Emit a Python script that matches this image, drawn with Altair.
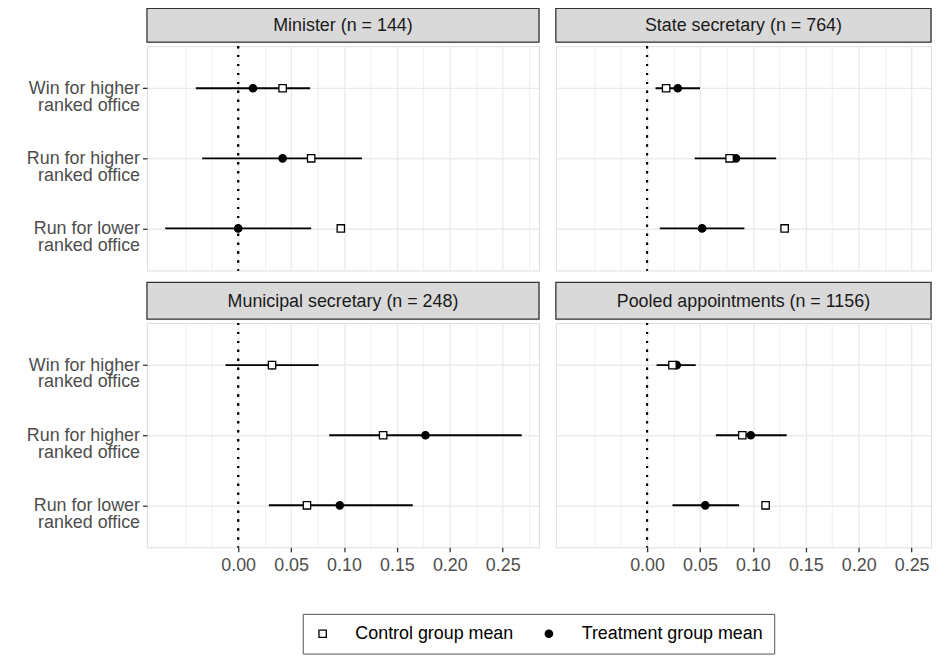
import altair as alt
import pandas as pd

FONT = "Liberation Sans"

panels = ["Minister (n = 144)", "State secretary (n = 764)",
          "Municipal secretary (n = 248)", "Pooled appointments (n = 1156)"]
outcomes = ["Win for higher\nranked office", "Run for higher\nranked office",
            "Run for lower\nranked office"]
groups = ["Control group mean", "Treatment group mean"]

treat_minister = [0.014, 0.042, 0.000]
ctrl_minister = [0.042, 0.069, 0.097]
lo_minister = [-0.040, -0.034, -0.069]
hi_minister = [0.068, 0.117, 0.069]

treat_state = [0.029, 0.084, 0.052]
ctrl_state = [0.018, 0.078, 0.130]
lo_state = [0.008, 0.045, 0.012]
hi_state = [0.050, 0.122, 0.092]

treat_muni = [0.032, 0.177, 0.096]
ctrl_muni = [0.032, 0.137, 0.065]
lo_muni = [-0.012, 0.086, 0.029]
hi_muni = [0.076, 0.268, 0.165]

treat_pooled = [0.028, 0.098, 0.055]
ctrl_pooled = [0.024, 0.090, 0.112]
lo_pooled = [0.009, 0.065, 0.024]
hi_pooled = [0.046, 0.132, 0.087]

treat_all = [treat_minister, treat_state, treat_muni, treat_pooled]
ctrl_all = [ctrl_minister, ctrl_state, ctrl_muni, ctrl_pooled]
lo_all = [lo_minister, lo_state, lo_muni, lo_pooled]
hi_all = [hi_minister, hi_state, hi_muni, hi_pooled]

x_ticks = [-0.05, -0.025, 0.0, 0.025, 0.05, 0.075, 0.1, 0.125, 0.15, 0.175,
           0.2, 0.225, 0.25, 0.275]

# Build tables
pt_rows, ci_rows = [], []
for p, tr, ct, lo, hi in zip(panels, treat_all, ctrl_all, lo_all, hi_all):
    for o, v in zip(outcomes, tr):
        pt_rows.append({"panel": p, "outcome": o, "group": groups[1], "value": v})
    for o, v in zip(outcomes, ct):
        pt_rows.append({"panel": p, "outcome": o, "group": groups[0], "value": v})
    for o, a, b in zip(outcomes, lo, hi):
        ci_rows.append({"panel": p, "outcome": o, "lo": a, "hi": b})
pts_df = pd.DataFrame(pt_rows)
ci_df = pd.DataFrame(ci_rows)

W_LEFT, W_RIGHT, H = 395, 378, 226
PX_PER_UNIT = 1066.2
X_MIN = -0.0862
MAJOR = "datum.value > -0.001 && datum.value < 0.26 && abs(datum.value*20 - round(datum.value*20)) < 0.001"

yscale = alt.Scale(type="point", domain=outcomes, padding=0.6)

legend = alt.Legend(
    title=None, orient="none", legendX=157, legendY=610, direction="horizontal",
    padding=11, strokeColor="#555555", fillColor="white",
    labelFontSize=18, labelColor="black", labelFont=FONT, labelLimit=400,
    symbolSize=55, symbolStrokeWidth=1.3,
    labelOffset=24, columnPadding=26,
)


def x_axis(bottom, vals):
    common = dict(values=vals, domain=False, grid=True, gridColor="#EBEBEB",
                  gridWidth={"condition": {"test": MAJOR, "value": 1.4}, "value": 0.8},
                  title=None)
    if bottom:
        return alt.Axis(labelExpr="(" + MAJOR + ") ? format(datum.value, '.2f') : ''",
                        labelFontSize=18, labelColor="#4D4D4D", labelFont=FONT,
                        labelOverlap=False, labelFlush=False, labelPadding=4.5,
                        tickSize=4.5, tickColor="#333333", tickWidth=1.3,
                        tickOpacity={"condition": {"test": MAJOR, "value": 1}, "value": 0},
                        **common)
    return alt.Axis(labels=False, ticks=False, minExtent=0, maxExtent=0, **common)


def y_axis(left):
    common = dict(domain=False, grid=True, gridColor="#EBEBEB", gridWidth=1.4, title=None)
    if left:
        return alt.Axis(labelExpr="split(datum.label, '\\n')", labelFontSize=18,
                        labelColor="#4D4D4D", labelFont=FONT, labelLineHeight=17,
                        labelPadding=3, labelLimit=300, tickSize=4.5,
                        tickColor="#333333", tickWidth=1.3, minExtent=139, **common)
    return alt.Axis(labels=False, ticks=False, minExtent=0, maxExtent=0, **common)


def strip(p, w, h):
    d = pd.DataFrame({"title": [p]})
    rect = alt.Chart(d).mark_rect(fill="#D9D9D9", stroke="#333333", strokeWidth=1.3).encode(
        x=alt.value(0), x2=alt.value(w), y=alt.value(0), y2=alt.value(h))
    txt = alt.Chart(d).mark_text(fontSize=18, color="#1A1A1A", font=FONT).encode(
        text="title:N", x=alt.value(w / 2), y=alt.value(h / 2 + 1))
    return alt.layer(rect, txt).properties(width=w, height=h)


def panel(i, left, bottom, strip_h):
    w = W_LEFT if left else W_RIGHT
    x_max = X_MIN + w / PX_PER_UNIT
    vals = [v for v in x_ticks if v <= x_max]
    xscale = alt.Scale(domain=[X_MIN, x_max], nice=False, zero=False)
    p = panels[i]
    pts = pts_df[pts_df.panel == p]
    ci = ci_df[ci_df.panel == p]
    xa = x_axis(bottom, vals)
    ya = y_axis(left)
    yenc = alt.Y("outcome:N", scale=yscale, axis=ya, sort=outcomes, title=None)
    zero = alt.Chart(ci).mark_rule(color="black", strokeDash=[2, 7], strokeWidth=2).encode(
        x=alt.X(datum=0, type="quantitative", scale=xscale, axis=xa, title=None))
    bars = alt.Chart(ci).mark_rule(color="black", strokeWidth=1.9).encode(
        x=alt.X("lo:Q", scale=xscale, axis=xa, title=None), x2="hi:Q", y=yenc)
    dots = alt.Chart(pts).mark_point(filled=True, size=55, strokeWidth=1.3,
                                     opacity=1).encode(
        x=alt.X("value:Q", scale=xscale, axis=xa, title=None),
        y=yenc,
        shape=alt.Shape("group:N", scale=alt.Scale(domain=groups, range=["square", "circle"]),
                        legend=legend),
        fill=alt.Fill("group:N", scale=alt.Scale(domain=groups, range=["white", "black"]),
                      legend=legend),
        stroke=alt.Stroke("group:N", scale=alt.Scale(domain=groups, range=["black", "black"]),
                          legend=legend),
    )
    plot = alt.layer(zero, bars, dots).properties(width=w, height=H)
    return alt.vconcat(strip(p, w, strip_h), plot, spacing=0)


row1 = alt.hconcat(panel(0, True, False, 34), panel(1, False, False, 34), spacing=13)
row2 = alt.hconcat(panel(2, True, True, 37), panel(3, False, True, 37), spacing=13)

chart = alt.vconcat(row1, row2, spacing=8).properties(
    padding={"left": 0, "top": -4, "right": 0, "bottom": 0}
).configure_view(stroke="#333333", strokeWidth=1.3).configure(font=FONT)

chart.save("out.html", embed_options={"renderer": "svg", "actions": False})
